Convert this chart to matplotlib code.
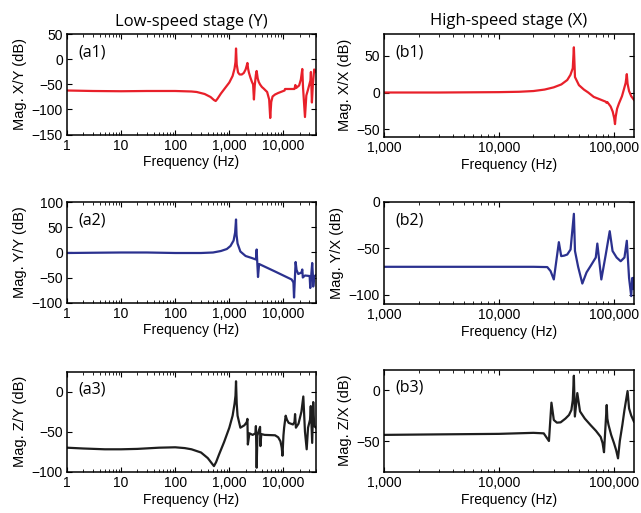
#!/usr/bin/env python3
"""Frequency response magnitude of the low-speed (Y) and high-speed (X) stages."""
import matplotlib
matplotlib.use("Agg")
import matplotlib.pyplot as plt
from matplotlib.ticker import FixedLocator, FuncFormatter, LogLocator, NullFormatter

plt.rcParams["font.family"] = ["Liberation Sans", "DejaVu Sans"]

# ---- data (frequency in Hz, magnitude in dB) ----
f_a1 = [1, 3, 10, 30, 100, 200, 250, 350, 450, 520, 560, 600, 700, 850, 1000,
        1150, 1250, 1300, 1330, 1370, 1450, 1550, 1700, 1850, 2000, 2100, 2160,
        2220, 2300, 2450, 2600, 2750, 2850, 2950, 3100, 3200, 3350, 3500, 3700,
        4000, 4300, 5000, 5450, 5700, 5950, 6300, 7000, 8000, 10500, 10700, 16000,
        16600, 17200, 19500, 21000, 22300, 23000, 25000, 26500, 28500, 31500, 32200,
        33000, 33600, 35000, 37000, 40000]
db_a1 = [-62, -63, -63.5, -63, -63, -64, -65, -69, -75, -81, -83, -79, -68, -56, -46,
         -33, -18, -5, 22, -10, -26, -30, -30, -27, -20, -12, -7,
         -18, -26, -36, -44, -50, -80, -52, -30, -23, -38, -45, -50,
         -55, -58, -65, -80, -117, -85, -74, -70, -67, -62, -59, -59,
         -51, -57, -52, -40, -19, -55, -115, -72, -60, -42, -25,
         -60, -86, -50, -20, -25]

f_a2 = [1, 3, 10, 30, 100, 300, 500, 700, 900, 1050, 1200, 1280, 1330, 1360, 1420,
        1600, 2000, 2600, 3100, 3200, 3250, 3390, 3550, 7000, 14200, 15300, 15700,
        16300, 16800, 17500, 18800, 21500, 22300, 22800, 25000, 30500, 31300, 34000,
        35000, 35500, 37000, 40000]
db_a2 = [-1, -0.5, 0, 0, -1, -1, 0, 3, 7, 13, 24, 40, 66, 35, 18,
         2, -7, -11, -14, 6, -10, -49, -23, -38, -54, -60, -90,
         -50, -19, -35, -43, -40, -34, -50, -46, -47, -71, -21,
         -45, -68, -48, -45]

f_a3 = [1, 2, 5, 10, 20, 50, 100, 150, 200, 300, 400, 480, 520, 570, 650, 800, 1000,
        1150, 1250, 1300, 1330, 1370, 1420, 1600, 1900, 2100, 2160, 2200, 2350, 2700,
        3050, 3100, 3200, 3300, 3500, 3700, 3750, 3900, 4500, 7000, 8000, 8800, 9300,
        9600, 10000, 10300, 11000, 11600, 12500, 15000, 16000, 16400, 17000, 19000,
        21500, 23300, 25000, 26900, 28500, 31000, 32000, 34000, 35500, 37000, 40000]
db_a3 = [-70, -71, -72, -72, -71.5, -70, -69.5, -70.5, -72, -76, -83, -90, -93, -88,
         -78, -63, -45, -30, -15, -5, 13, -15, -30, -45, -42, -38, -34, -66, -52, -54,
         -52, -43, -95, -55, -49, -44, -68, -53, -54, -54.5, -57, -62, -70,
         -80, -55, -45, -30, -35, -39, -41, -38, -28, -45, -40,
         -25, -6, -50, -72, -45, -35, -18, -64, -13, -43, -45]

f_b1 = [1000, 3000, 10000, 15000, 20000, 25000, 30000, 35000, 39400, 42000, 44000,
        45000, 46000, 49800, 55000, 60000, 67000, 75000, 85200, 86500, 88000, 94000,
        98000, 101000, 102600, 104000, 107000, 111000, 118000, 123000, 127000, 130000,
        132000, 136000, 142000, 150000]
db_b1 = [0, 0, 0.5, 1, 2, 4, 7, 11, 17, 24, 33,
         61.5, 21, 10, 4, 0, -6, -9, -12.5, -14, -13, -19,
         -26, -35, -43, -33, -22, -15, -5, 5, 13, 25,
         12, 2, -5, -10]

f_b2 = [1000, 3000, 10000, 20000, 26400, 28200, 30100, 33300, 34900, 37000, 39400,
        42100, 45000, 46000, 49000, 53300, 58000, 63000, 69800, 72000, 78000, 85200,
        92300, 97700, 106000, 115000, 124000, 130000, 136000, 142000, 145000, 148000,
        150000]
db_b2 = [-70, -70, -70, -70, -70.3, -74.6, -83.6, -43.5, -58.5, -58, -56.8,
         -51.4, -13, -53, -70, -88, -76, -69, -60, -45, -83.6, -57,
         -31.7, -53, -60, -64, -60, -42, -82, -101.5, -82, -94,
         -82]

f_b3 = [1000, 3000, 10000, 20000, 24600, 27300, 28700, 30100, 32000, 34500, 38000,
        40800, 42800, 44000, 45000, 45900, 48200, 50900, 56000, 63000, 70000, 77000,
        80000, 82300, 86900, 88000, 90000, 95000, 100500, 105000, 109000, 113000,
        119000, 124000, 132000, 136000, 142000, 150000]
db_b3 = [-44, -43.5, -43, -42, -42.5, -50, -12.4, -29.4, -32, -31.7, -28,
         -24.5, -19.6, -10, 14, -26, -3, -21, -28, -34.5, -40, -46,
         -52, -61, -14.7, -28, -34, -44, -52, -59, -67, -50,
         -34, -19.6, -1, -18, -25, -31]

col_titles = ["Low-speed stage (Y)", "High-speed stage (X)"]
panels = [
    # tag, ylabel, freq, mag, colour, ylim, yticks, axes rect
    ("(a1)", "Mag. X/Y (dB)", f_a1, db_a1, "#e8202a", (-150, 50), [-150, -100, -50, 0, 50],
     [0.1045, 0.7378, 0.3885, 0.195]),
    ("(a2)", "Mag. Y/Y (dB)", f_a2, db_a2, "#2b318f", (-100, 100), [-100, -50, 0, 50, 100],
     [0.1045, 0.4103, 0.3885, 0.195]),
    ("(a3)", "Mag. Z/Y (dB)", f_a3, db_a3, "#1e1e1e", (-100, 25), [-100, -50, 0],
     [0.1045, 0.0805, 0.3885, 0.195]),
    ("(b1)", "Mag. X/X (dB)", f_b1, db_b1, "#e8202a", (-60, 80), [-50, 0, 50],
     [0.599, 0.7337, 0.390, 0.2006]),
    ("(b2)", "Mag. Y/X (dB)", f_b2, db_b2, "#2b318f", (-110, 0), [-100, -50, 0],
     [0.599, 0.4074, 0.390, 0.1994]),
    ("(b3)", "Mag. Z/X (dB)", f_b3, db_b3, "#1e1e1e", (-80, 20), [-50, 0],
     [0.599, 0.0807, 0.390, 0.1988]),
]

fig = plt.figure(figsize=(6.41, 5.13), dpi=100)
comma = FuncFormatter(lambda v, _: f"{int(round(v)):,}")

for i, (tag, ylab, f, db, colour, ylim, yticks, rect) in enumerate(panels):
    ax = fig.add_axes(rect)
    ax.plot(f, db, color=colour, lw=1.6)
    ax.set_xscale("log")
    if tag.startswith("(a"):
        ax.set_xlim(1, 40000)
        ax.xaxis.set_major_locator(FixedLocator([1, 10, 100, 1000, 10000]))
    else:
        ax.set_xlim(1000, 150000)
        ax.xaxis.set_major_locator(FixedLocator([1000, 10000, 100000]))
    ax.xaxis.set_major_formatter(comma)
    ax.xaxis.set_minor_locator(LogLocator(base=10, subs=range(2, 10), numticks=20))
    ax.xaxis.set_minor_formatter(NullFormatter())
    ax.set_ylim(*ylim)
    ax.set_yticks(yticks)
    ax.tick_params(which="both", direction="in", top=True, right=True, labelsize=10, pad=3)
    ax.tick_params(which="major", length=3.5, width=0.8)
    ax.tick_params(which="minor", length=2, width=0.6)
    for s in ax.spines.values():
        s.set_linewidth(1.1)
    ax.set_xlabel("Frequency (Hz)", fontsize=10, labelpad=2)
    ax.set_ylabel(ylab, fontsize=10.5, labelpad=3)
    ax.text(0.045, 0.82, tag, transform=ax.transAxes, ha="left", va="center",
            fontsize=11.5, family=["Open Sans", "DejaVu Sans"])
    if i % 3 == 0:
        ax.set_title(col_titles[i // 3], fontsize=12, pad=6,
                     family=["Open Sans", "DejaVu Sans"])

fig.savefig("out.png", dpi=100)
